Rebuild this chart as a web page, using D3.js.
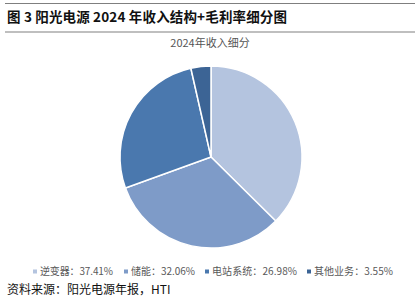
<!DOCTYPE html>
<html><head><meta charset="utf-8">
<script src="https://cdn.jsdelivr.net/npm/d3@7"></script>
<style>
html,body{margin:0;padding:0;background:#fff;}
svg{display:block;font-family:"Noto Sans CJK SC","Noto Sans",sans-serif;}
</style></head>
<body>
<svg id="c" width="420" height="299"></svg>
<script>
const categories = ["逆变器", "储能", "电站系统", "其他业务"];
const values = [37.41, 32.06, 26.98, 3.55];
const colors = ["#B4C4DF", "#7E9BC8", "#4A78AE", "#3C6495"];
const title = "图 3 阳光电源 2024 年收入结构+毛利率细分图";
const subtitle = "2024年收入细分";
const source = "资料来源：阳光电源年报，HTI";

const svg = d3.select("#c");
svg.append("line").attr("x1",5).attr("x2",415).attr("y1",3.5).attr("y2",3.5).attr("stroke","#7f7f7f").attr("stroke-width",1.2);
svg.append("text").attr("x",7).attr("y",22).attr("font-size",13.5).attr("font-weight","bold").attr("fill","#111")
  .attr("textLength",280).attr("lengthAdjust","spacing").text(title);
svg.append("line").attr("x1",5).attr("x2",415).attr("y1",32).attr("y2",32).attr("stroke","#aaa").attr("stroke-width",1.5);
svg.append("text").attr("x",210).attr("y",47).attr("text-anchor","middle").attr("font-size",11).attr("fill","#555").text(subtitle);

const cx = 211, cy = 157, r = 91;
const pie = d3.pie().sort(null).value(d=>d)(values);
const arc = d3.arc().innerRadius(0).outerRadius(r);
const g = svg.append("g").attr("transform",`translate(${cx},${cy})`);
g.selectAll("path").data(pie).join("path")
  .attr("d",arc).attr("fill",(d,i)=>colors[i])
  .attr("stroke","#fff").attr("stroke-width",1.5);

// legend
const lx = [35, 126, 207, 309];
const lw = [73, 64, 85, 79];
const lg = svg.append("g");
categories.forEach((c,i)=>{
  lg.append("rect").attr("x",lx[i]-2).attr("y",269.5).attr("width",4).attr("height",4).attr("fill",colors[i]);
  lg.append("text").attr("x",lx[i]+5).attr("y",275).attr("font-size",10).attr("fill","#595959")
    .attr("textLength",lw[i]).attr("lengthAdjust","spacing")
    .text(c + "：" + values[i].toFixed(2) + "%");
});
svg.append("text").attr("x",7).attr("y",294).attr("font-size",12).attr("fill","#111").text(source);
</script>
</body></html>
